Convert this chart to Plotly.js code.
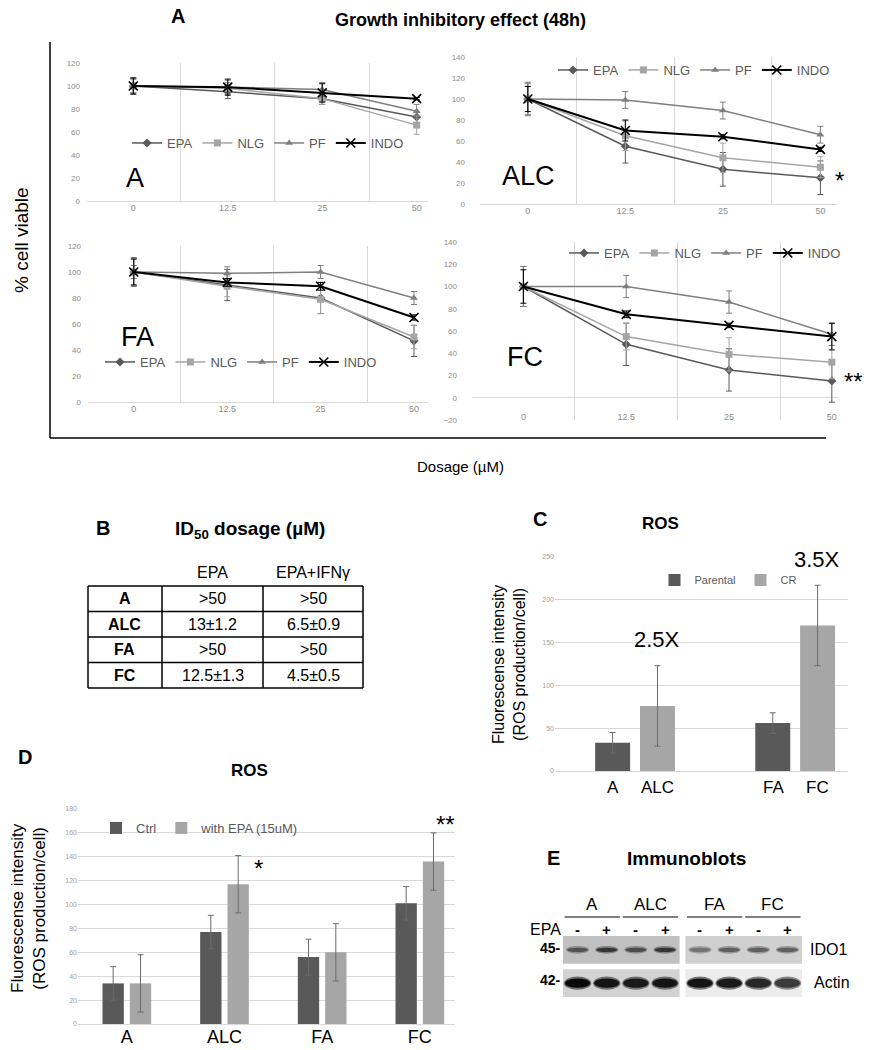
<!DOCTYPE html>
<html><head><meta charset="utf-8">
<script src="https://cdn.plot.ly/plotly-3.0.1.min.js"></script>
<style>html,body{margin:0;padding:0;background:#fff}#chart{width:870px;height:1050px}</style>
</head><body><div id="chart"></div>
<script>
// ---------- Panel A: growth inhibition (% cell viable) ----------
const doses = ['0', '12.5', '25', '50'];
const drugs = ['EPA', 'NLG', 'PF', 'INDO'];

const A_EPA = [100, 95, 89, 73];   const A_EPA_err = [7, 6, 5, 5];
const A_NLG = [100, 98, 89, 66];   const A_NLG_err = [6, 5, 5, 8];
const A_PF = [100, 99, 97, 78];    const A_PF_err = [6, 6, 6, 6];
const A_INDO = [100, 99, 94, 89];  const A_INDO_err = [7, 7, 8, 1];

const ALC_EPA = [100, 55, 33, 25];  const ALC_EPA_err = [15, 16, 16, 16];
const ALC_NLG = [100, 65, 44, 35];  const ALC_NLG_err = [15, 14, 14, 10];
const ALC_PF = [100, 99, 89, 66];   const ALC_PF_err = [16, 8, 8, 8];
const ALC_INDO = [100, 70, 64, 52]; const ALC_INDO_err = [12, 10, 2, 2];

const FA_EPA = [100, 90, 80, 47];   const FA_EPA_err = [11, 12, 12, 12];
const FA_NLG = [100, 89, 79, 50];   const FA_NLG_err = [10, 8, 11, 9];
const FA_PF = [100, 99, 100, 80];   const FA_PF_err = [5, 5, 5, 5];
const FA_INDO = [100, 92, 89, 65];  const FA_INDO_err = [10, 3, 3, 2];

const FC_EPA = [100, 48, 25, 15];   const FC_EPA_err = [18, 19, 19, 19];
const FC_NLG = [100, 55, 39, 32];   const FC_NLG_err = [18, 12, 15, 15];
const FC_PF = [100, 100, 86, 57];   const FC_PF_err = [18, 10, 10, 10];
const FC_INDO = [100, 75, 65, 55];  const FC_INDO_err = [15, 3, 2, 12];

// ---------- Panel B: ID50 table ----------
const tableHeader = ['', 'EPA', 'EPA+IFNγ'];
const tableRows = ['A', 'ALC', 'FA', 'FC'];
const id50_EPA = ['>50', '13±1.2', '>50', '12.5±1.3'];
const id50_EPA_IFN = ['>50', '6.5±0.9', '>50', '4.5±0.5'];

// ---------- Panel C: ROS parental vs CR ----------
const rosC_groups = ['A / ALC', 'FA / FC'];
const rosC_parentalLabels = ['A', 'FA'];
const rosC_crLabels = ['ALC', 'FC'];
const rosC_parental = [33, 56];   const rosC_parental_err = [12, 12];
const rosC_cr = [76, 170];        const rosC_cr_err = [47, 47];
const rosC_foldLabels = ['2.5X', '3.5X'];

// ---------- Panel D: ROS ctrl vs EPA ----------
const rosD_cells = ['A', 'ALC', 'FA', 'FC'];
const rosD_ctrl = [34, 77, 56, 101];   const rosD_ctrl_err = [14, 14, 15, 14];
const rosD_epa = [34, 117, 60, 136];   const rosD_epa_err = [24, 24, 24, 24];

// ---------- Panel E: immunoblot band intensities (0..1) ----------
const blotSamples = ['A', 'ALC', 'FA', 'FC'];
const blotEPA = ['-', '+', '-', '+', '-', '+', '-', '+'];
const ido1Intensity = [0.62, 0.78, 0.66, 0.78, 0.45, 0.55, 0.55, 0.55];
const actinIntensity = [1.0, 0.95, 0.92, 0.95, 0.95, 0.92, 0.85, 0.75];

// ---------- helpers ----------
const W = 870, H = 1050;
const px = x => x / W;
const py = y => 1 - y / H;
const FONT = 'Liberation Sans, Arial, sans-serif';
const NARROW = 'Liberation Sans Narrow, Liberation Sans, Arial, sans-serif';

const drugStyle = {
  EPA:  {color: '#595959', symbol: 'diamond', size: 7, width: 1.5},
  NLG:  {color: '#a5a5a5', symbol: 'square', size: 7, width: 1.5},
  PF:   {color: '#7f7f7f', symbol: 'triangle-up', size: 7, width: 1.5},
  INDO: {color: '#000000', symbol: 'x-thin-open', size: 9, width: 2}
};

function panelTraces(vals, errs, xa, ya, leg) {
  return drugs.map((d, i) => {
    const st = drugStyle[d];
    return {
      type: 'scatter', mode: 'lines+markers', name: d, x: doses, y: vals[i],
      xaxis: xa, yaxis: ya, legend: leg, hoverinfo: 'skip',
      line: {color: st.color, width: st.width},
      marker: {symbol: st.symbol, size: st.size, color: st.color,
               line: {color: st.color, width: d === 'INDO' ? 1.6 : 0}},
      error_y: {type: 'data', array: errs[i], visible: true, color: st.color, thickness: 1, width: 3}
    };
  });
}

const traces = [];
traces.push(...panelTraces([A_EPA, A_NLG, A_PF, A_INDO], [A_EPA_err, A_NLG_err, A_PF_err, A_INDO_err], 'x', 'y', 'legend'));
traces.push(...panelTraces([ALC_EPA, ALC_NLG, ALC_PF, ALC_INDO], [ALC_EPA_err, ALC_NLG_err, ALC_PF_err, ALC_INDO_err], 'x2', 'y2', 'legend2'));
traces.push(...panelTraces([FA_EPA, FA_NLG, FA_PF, FA_INDO], [FA_EPA_err, FA_NLG_err, FA_PF_err, FA_INDO_err], 'x3', 'y3', 'legend3'));
traces.push(...panelTraces([FC_EPA, FC_NLG, FC_PF, FC_INDO], [FC_EPA_err, FC_NLG_err, FC_PF_err, FC_INDO_err], 'x4', 'y4', 'legend4'));

// Bars C
traces.push({type: 'bar', name: 'Parental', x: rosC_groups, y: rosC_parental, xaxis: 'x5', yaxis: 'y5', legend: 'legend5',
  marker: {color: '#595959'}, hoverinfo: 'skip',
  error_y: {type: 'data', array: rosC_parental_err, color: '#6b6b6b', thickness: 1, width: 3}});
traces.push({type: 'bar', name: 'CR', x: rosC_groups, y: rosC_cr, xaxis: 'x5', yaxis: 'y5', legend: 'legend5',
  marker: {color: '#a6a6a6'}, hoverinfo: 'skip',
  error_y: {type: 'data', array: rosC_cr_err, color: '#6b6b6b', thickness: 1, width: 3}});

// Bars D
traces.push({type: 'bar', name: 'Ctrl', x: rosD_cells, y: rosD_ctrl, xaxis: 'x6', yaxis: 'y6', legend: 'legend6',
  marker: {color: '#595959'}, hoverinfo: 'skip',
  error_y: {type: 'data', array: rosD_ctrl_err, color: '#6b6b6b', thickness: 1, width: 3}});
traces.push({type: 'bar', name: 'with EPA (15uM)', x: rosD_cells, y: rosD_epa, xaxis: 'x6', yaxis: 'y6', legend: 'legend6',
  marker: {color: '#a6a6a6'}, hoverinfo: 'skip',
  error_y: {type: 'data', array: rosD_epa_err, color: '#6b6b6b', thickness: 1, width: 3}});

// Blot lanes (anchor trace for x7/y7, invisible)
const laneX = i => i + (i >= 4 ? 0.2 : 0);
traces.push({type: 'scatter', mode: 'markers', x: blotEPA.map((_, i) => laneX(i)), y: blotEPA.map(() => 1.1),
  xaxis: 'x7', yaxis: 'y7', marker: {opacity: 0, size: 1, color: '#ffffff'}, showlegend: false, hoverinfo: 'skip'});

// ---------- axes ----------
function lineX(domain, rng, anchor, extra) {
  return Object.assign({domain, anchor, type: 'category', categoryorder: 'array', categoryarray: doses,
    range: rng, tickson: 'boundaries', showgrid: true, gridcolor: '#d9d9d9', gridwidth: 1,
    ticks: '', showline: false, zeroline: false, fixedrange: true,
    tickfont: {family: FONT, size: 9, color: '#8c8c8c'}}, extra || {});
}
function lineY(domain, rng, anchor, standoff) {
  return {domain, anchor, range: rng, dtick: 20, showgrid: false, zeroline: true,
    zerolinecolor: '#d9d9d9', zerolinewidth: 1, showline: false, ticks: '', fixedrange: true,
    ticklabelstandoff: standoff,
    tickfont: {family: FONT, size: 8, color: '#8c8c8c'}};
}

function legendAt(cx, cy, size) {
  return {x: px(cx), y: py(cy), xanchor: 'center', yanchor: 'middle', orientation: 'h',
    bgcolor: 'rgba(0,0,0,0)', itemwidth: 30, tracegroupgap: 0,
    font: {family: FONT, size: size, color: '#595959'}};
}

const annotations = [];
function ann(text, x, y, opts) {
  const o = Object.assign({text, x: px(x), y: py(y), xref: 'paper', yref: 'paper', showarrow: false,
    xanchor: 'center', yanchor: 'middle'}, opts || {});
  o.font = Object.assign({family: FONT, size: 14, color: '#000'}, (opts && opts.font) || {});
  annotations.push(o);
}
const shapes = [];
function pline(x0, y0, x1, y1, color, width) {
  shapes.push({type: 'line', xref: 'paper', yref: 'paper', x0: px(x0), x1: px(x1), y0: py(y0), y1: py(y1),
    line: {color: color, width: width}});
}

// Panel A texts + frame
ann('<b>A</b>', 178, 16, {font: {size: 20}});
ann('<b>Growth inhibitory effect (48h)</b>', 460, 20, {font: {size: 18}});
ann('% cell viable', 22, 240, {textangle: -90, font: {size: 19}});
ann('Dosage (µM)', 460, 466, {font: {size: 15}});
ann('A', 135, 178, {font: {size: 27}});
ann('ALC', 528, 176, {font: {size: 27}});
ann('FA', 137, 337, {font: {size: 27}});
ann('FC', 525, 357, {font: {size: 27}});
ann('*', 839, 180, {font: {size: 24}});
ann('**', 853, 381, {font: {size: 24}});
pline(50, 42, 50, 438, '#000', 1.5);
pline(50, 438, 826, 438, '#000', 1.5);

// Panel B: title + table (grid and texts built from the arrays)
ann('<b>B</b>', 103, 528, {font: {size: 20}});
ann('<b>ID<sub>50</sub> dosage (µM)</b>', 250, 530, {font: {size: 19}});
const tblLeft = 88, tblTop = 586, rowH = 25.5, colW = [74, 101, 100], headerY = 572;
const colEdges = [tblLeft];
colW.forEach(w => colEdges.push(colEdges[colEdges.length - 1] + w));
const tblBottom = tblTop + rowH * tableRows.length;
for (let k = 0; k <= tableRows.length; k++) pline(tblLeft, tblTop + k * rowH, colEdges[colEdges.length - 1], tblTop + k * rowH, '#000', 1.5);
colEdges.forEach(xe => pline(xe, tblTop, xe, tblBottom, '#000', 1.5));
const colCenter = c => (colEdges[c] + colEdges[c + 1]) / 2;
tableHeader.forEach((h, c) => { if (h) ann(h, colCenter(c), headerY, {font: {size: 16}}); });
const tableCols = [tableRows.map(r => '<b>' + r + '</b>'), id50_EPA, id50_EPA_IFN];
tableCols.forEach((col, c) => col.forEach((v, r) => ann(v, colCenter(c), tblTop + (r + 0.5) * rowH, {font: {size: 16}})));

// Panel C texts
ann('<b>C</b>', 540, 519, {font: {size: 20}});
ann('<b>ROS</b>', 660, 523, {font: {size: 17}});
ann('Fluorescense intensity<br>(ROS production/cell)', 509, 665, {textangle: -90, font: {size: 16}});
rosC_groups.forEach((g, i) => {
  annotations.push({text: rosC_parentalLabels[i], x: g, y: 0, xref: 'x5', yref: 'y5', xshift: -22, yshift: -16,
    showarrow: false, font: {family: FONT, size: 17, color: '#000'}});
  annotations.push({text: rosC_crLabels[i], x: g, y: 0, xref: 'x5', yref: 'y5', xshift: 22, yshift: -16,
    showarrow: false, font: {family: FONT, size: 17, color: '#000'}});
  annotations.push({text: rosC_foldLabels[i], x: g, y: rosC_cr[i] + rosC_cr_err[i], xref: 'x5', yref: 'y5',
    xshift: 22, yshift: 26, showarrow: false, font: {family: FONT, size: 22, color: '#000'}});
});

// Panel D texts
ann('<b>D</b>', 25, 757, {font: {size: 20}});
ann('<b>ROS</b>', 250, 770, {font: {size: 17}});
ann('Fluorescense intensity<br>(ROS production/cell)', 28, 908, {textangle: -90, font: {size: 17}});
ann('*', 258, 868, {font: {size: 24}});
ann('**', 446, 824, {font: {size: 24}});

// Panel E texts
ann('<b>E</b>', 553, 858, {font: {size: 20}});
ann('<b>Immunoblots</b>', 686, 858, {font: {size: 19}});
ann('EPA', 545, 929, {font: {size: 16}});
ann('<b>45-</b>', 550, 948, {font: {size: 14}});
ann('<b>42-</b>', 550, 980, {font: {size: 14}});
ann('IDO1', 828, 949, {font: {size: 16}});
ann('Actin', 832, 982, {font: {size: 16}});

// Blot: strips, bands, labels
const stripColors = {idoL: '#c0c0c0', idoR: '#d0d0d0', actL: '#d2d2d2', actR: '#ececec'};
shapes.push({type: 'rect', xref: 'x7', yref: 'y7', x0: -0.5, x1: 3.5, y0: 1.2, y1: 2.2, fillcolor: stripColors.idoL, line: {width: 0}, layer: 'below'});
shapes.push({type: 'rect', xref: 'x7', yref: 'y7', x0: 3.7, x1: 7.7, y0: 1.2, y1: 2.2, fillcolor: stripColors.idoR, line: {width: 0}, layer: 'below'});
shapes.push({type: 'rect', xref: 'x7', yref: 'y7', x0: -0.5, x1: 3.5, y0: 0, y1: 1, fillcolor: stripColors.actL, line: {width: 0}, layer: 'below'});
shapes.push({type: 'rect', xref: 'x7', yref: 'y7', x0: 3.7, x1: 7.7, y0: 0, y1: 1, fillcolor: stripColors.actR, line: {width: 0}, layer: 'below'});
function gray(v) { const g = Math.round(200 - 190 * v); return 'rgb(' + g + ',' + g + ',' + g + ')'; }
blotEPA.forEach((s, i) => {
  const cx = laneX(i);
  shapes.push({type: 'circle', xref: 'x7', yref: 'y7', x0: cx - 0.4, x1: cx + 0.4, y0: 1.7 - 0.14, y1: 1.7 + 0.14,
    fillcolor: gray(ido1Intensity[i] * 0.6), line: {width: 0}, opacity: 0.8});
  shapes.push({type: 'circle', xref: 'x7', yref: 'y7', x0: cx - 0.36, x1: cx + 0.36, y0: 1.7 - 0.08, y1: 1.7 + 0.08,
    fillcolor: gray(ido1Intensity[i]), line: {width: 0}});
  shapes.push({type: 'circle', xref: 'x7', yref: 'y7', x0: cx - 0.47, x1: cx + 0.47, y0: 0.5 - 0.24, y1: 0.5 + 0.24,
    fillcolor: gray(actinIntensity[i] * 0.6), line: {width: 0}, opacity: 0.8});
  shapes.push({type: 'circle', xref: 'x7', yref: 'y7', x0: cx - 0.43, x1: cx + 0.43, y0: 0.5 - 0.17, y1: 0.5 + 0.17,
    fillcolor: gray(actinIntensity[i]), line: {width: 0}});
  annotations.push({text: '<b>' + s + '</b>', x: cx, y: py(929), xref: 'x7', yref: 'paper', showarrow: false,
    xanchor: 'center', yanchor: 'middle', font: {family: FONT, size: 15, color: '#000000'}});
});
blotSamples.forEach((s, k) => {
  const a = laneX(2 * k), b = laneX(2 * k + 1);
  annotations.push({text: s, x: (a + b) / 2, y: py(904), xref: 'x7', yref: 'paper', showarrow: false,
    xanchor: 'center', yanchor: 'middle', font: {family: FONT, size: 17, color: '#000000'}});
  shapes.push({type: 'line', xref: 'x7', yref: 'paper', x0: a - 0.45, x1: b + 0.45, y0: py(917), y1: py(917),
    line: {color: '#000', width: 1.2}});
});

const layout = {
  width: W, height: H, margin: {l: 0, r: 0, t: 0, b: 0},
  paper_bgcolor: '#fff', plot_bgcolor: 'rgba(0,0,0,0)',
  font: {family: FONT, color: '#000'},
  showlegend: true,
  barmode: 'group', bargap: 0.44, bargroupgap: 0.22,
  xaxis:  lineX([px(87), px(428)], [-0.49, 3.12], 'y'),
  yaxis:  lineY([py(201), py(63)], [0, 120], 'x', 6),
  xaxis2: lineX([px(480), px(837)], [-0.49, 3.17], 'y2'),
  yaxis2: lineY([py(204), py(57)], [0, 140], 'x2', 14),
  xaxis3: lineX([px(88), px(428)], [-0.49, 3.15], 'y3'),
  yaxis3: lineY([py(402), py(246)], [0, 120], 'x3', 6),
  xaxis4: lineX([px(472), px(838)], [-0.5, 3.06], 'y4', {ticklabelstandoff: -10}),
  yaxis4: lineY([py(420), py(242)], [-20, 140], 'x4', 14),
  xaxis5: {domain: [px(555), px(848)], anchor: 'y5', type: 'category', range: [-0.5, 1.33],
    showticklabels: false, showgrid: false, ticks: '', zeroline: false, showline: false, fixedrange: true},
  yaxis5: {domain: [py(771), py(557)], anchor: 'x5', range: [0, 250], dtick: 50, showgrid: true,
    gridcolor: '#d9d9d9', zeroline: true, zerolinecolor: '#d9d9d9', ticks: '', showline: false, fixedrange: true,
    tickfont: {family: FONT, size: 7, color: '#a0a0a0'}},
  xaxis6: {domain: [px(78), px(455)], anchor: 'y6', type: 'category', categoryorder: 'array', categoryarray: rosD_cells,
    range: [-0.5, 3.36], showgrid: false, ticks: '', zeroline: false, showline: false, fixedrange: true,
    tickfont: {family: FONT, size: 18, color: '#000'}},
  yaxis6: {domain: [py(1024), py(809)], anchor: 'x6', range: [0, 180], dtick: 20, showgrid: true,
    gridcolor: '#d9d9d9', zeroline: true, zerolinecolor: '#d9d9d9', ticks: '', showline: false, fixedrange: true,
    tickfont: {family: FONT, size: 7, color: '#a0a0a0'}},
  xaxis7: {domain: [px(563), px(802)], anchor: 'y7', range: [-0.5, 7.7], visible: false, fixedrange: true},
  yaxis7: {domain: [py(997), py(936)], anchor: 'x7', range: [0, 2.2], visible: false, fixedrange: true},
  legend:  legendAt(268, 143, 13),
  legend2: legendAt(694, 70, 13),
  legend3: legendAt(241, 362, 13),
  legend4: legendAt(705, 253, 13),
  legend5: Object.assign(legendAt(728, 580, 11), {font: {family: NARROW, size: 11, color: '#595959'}}),
  legend6: Object.assign(legendAt(200, 828, 13), {font: {family: NARROW, size: 13, color: '#595959'}}),
  annotations, shapes
};

Plotly.newPlot('chart', traces, layout, {staticPlot: true, displayModeBar: false});
</script></body></html>
